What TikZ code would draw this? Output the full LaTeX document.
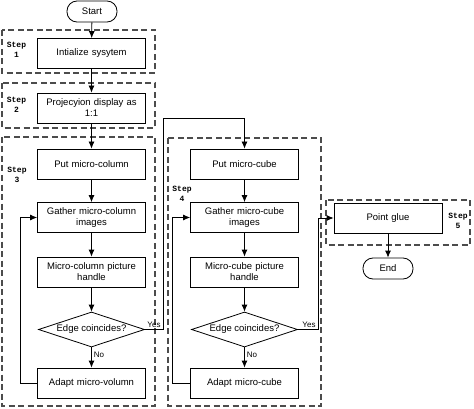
\documentclass[tikz,border=0pt]{standalone}
\usepackage{fontspec}
\setmainfont{Liberation Sans}
\newfontfamily\stepfont{Liberation Mono}
\usetikzlibrary{shapes.geometric, arrows.meta}

\tikzset{
  box/.style={draw, rectangle, minimum width=108pt, minimum height=30pt, text width=104pt, align=center, inner sep=1pt},
  term/.style={draw, rectangle, rounded corners=10pt, minimum width=50pt, minimum height=21pt},
  test/.style={draw, diamond, aspect=3, minimum width=106pt, minimum height=35pt, inner sep=0pt},
  zone/.style={dash pattern=on 6pt off 3.5pt, line width=1.2pt, black!70},
  steplabel/.style={font=\stepfont\bfseries\fontsize{8}{10}\selectfont, align=center, inner sep=0pt},
  answer/.style={font=\fontsize{8}{9}\selectfont, inner sep=2pt},
  flow/.style={-{Latex[length=7pt, width=6pt]}},
}

\begin{document}
\begin{tikzpicture}[x=1pt, y=-1pt, line width=0.8pt, font=\fontsize{9.5}{11}\selectfont]
  \useasboundingbox (0,0) rectangle (474,409);

  \draw[zone] (2,30) rectangle (155,73);
  \draw[zone] (2,83) rectangle (155,128);
  \draw[zone] (2,137) rectangle (155,406);
  \draw[zone] (168,138) rectangle (321,406);
  \draw[zone] (326,200) rectangle (470,245);

  \node[steplabel] (step1) at (16.5,50) {Step\\1};
  \node[steplabel] (step2) at (16.5,105) {Step\\2};
  \node[steplabel] (step3) at (17,175) {Step\\3};
  \node[steplabel] (step4) at (182,194) {Step\\4};
  \node[steplabel] (step5) at (458,221) {Step\\5};

  \node[term] (start) at (92,11.5) {Start};
  \node[box] (init) at (91.5,53.5) {Intialize sysytem};
  \node[box] (proj) at (91.5,108) {Projecyion display as\\1:1};
  \node[box] (putcol) at (91.5,164) {Put micro-column};
  \node[box] (gathercol) at (91.5,217.5) {Gather micro-column\\images};
  \node[box] (handlecol) at (91.5,272) {Micro-column picture\\handle};
  \node[test] (edgecol) at (91.5,329.5) {Edge coincides?};
  \node[box] (adaptcol) at (91.5,383) {Adapt micro-volumn};

  \node[box] (putcube) at (244.5,164) {Put micro-cube};
  \node[box] (gathercube) at (244.5,217.5) {Gather micro-cube\\images};
  \node[box] (handlecube) at (244.5,272) {Micro-cube picture\\handle};
  \node[test] (edgecube) at (244.5,329.5) {Edge coincides?};
  \node[box] (adaptcube) at (244.5,383) {Adapt micro-cube};

  \node[box] (glue) at (388,218) {Point glue};
  \node[term] (finish) at (388,268.5) {End};

  \draw[flow] (start) -- (init);
  \draw[flow] (init) -- (proj);
  \draw[flow] (proj) -- (putcol);
  \draw[flow] (putcol) -- (gathercol);
  \draw[flow] (gathercol) -- (handlecol);
  \draw[flow] (handlecol) -- (edgecol);
  \draw[flow] (edgecol) -- node[answer, right, pos=0.35]{No} (adaptcol);
  \draw[flow] (adaptcol.west) -- ++(-17,0) |- (gathercol.west);
  \draw[flow] (edgecol.east) -- node[answer, pos=1, above left]{Yes} ++(18,0)
    |- ([yshift=30pt]putcube.north) -- (putcube.north);

  \draw[flow] (putcube) -- (gathercube);
  \draw[flow] (gathercube) -- (handlecube);
  \draw[flow] (handlecube) -- (edgecube);
  \draw[flow] (edgecube) -- node[answer, right, pos=0.35]{No} (adaptcube);
  \draw[flow] (adaptcube.west) -- ++(-18,0) |- (gathercube.west);
  \draw[flow] (edgecube.east) -- node[answer, pos=1, above left]{Yes} ++(20,0)
    |- (glue.west);

  \draw[flow] (glue) -- (finish);
\end{tikzpicture}
\end{document}
